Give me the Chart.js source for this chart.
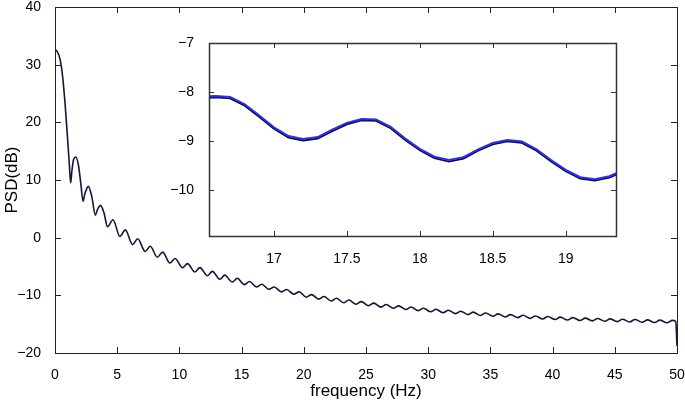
<!DOCTYPE html>
<html>
<head>
<meta charset="utf-8">
<script src="https://cdn.jsdelivr.net/npm/chart.js@4.4.1/dist/chart.umd.min.js"></script>
<style>
  html, body { margin: 0; padding: 0; background: #fff; }
  #wrap { position: relative; width: 685px; height: 405px; }
  #main { position: absolute; left: 0; top: 0; }
  #inset { position: absolute; left: 160px; top: 35px; }
</style>
</head>
<body>
<div id="wrap">
  <canvas id="main" width="685" height="405"></canvas>
  <canvas id="inset" width="470" height="230"></canvas>
</div>
<script>
// main curve: frequency (Hz) and PSD (dB)
const freq = [
  0, 0.15, 0.4, 0.6, 0.8, 1.0, 1.15, 1.26, 1.36, 1.5, 1.68, 1.88, 2.08, 2.25, 2.4, 2.68, 2.95, 3.25, 3.4, 3.66,
  3.95, 4.22, 4.66, 5.22, 5.65, 6.24, 6.65, 7.25, 7.65, 8.23, 8.65, 9.24, 9.65, 10.25, 10.65, 11.25, 11.65, 12.25, 12.65, 13.25,
  13.65, 14.25, 14.65, 15.22, 15.63, 16.2, 16.62, 17.2, 17.62, 18.2, 18.62, 19.2, 19.62,
  20.2, 20.62, 21.2, 21.62, 22.2, 22.62, 23.2, 23.62, 24.2, 24.62, 25.2, 25.62, 26.2, 26.62, 27.2, 27.62, 28.2, 28.62, 29.2, 29.62,
  30.2, 30.62, 31.2, 31.62, 32.2, 32.62, 33.2, 33.62, 34.2, 34.62, 35.2, 35.62, 36.2, 36.62, 37.2, 37.62, 38.2, 38.62, 39.2, 39.62,
  40.2, 40.62, 41.2, 41.62, 42.2, 42.62, 43.2, 43.62, 44.2, 44.62, 45.2, 45.62, 46.2, 46.62, 47.2, 47.62, 48.2, 48.62, 49.2, 49.62,
  49.9, 50
];
const psd = [
  32.6, 32.4, 31.0, 28.2, 23.5, 17.5, 12.8, 9.5, 11.6, 13.6, 14.0, 12.6, 9.3, 6.3, 7.6, 8.9, 7.2, 3.9, 4.8, 5.6,
  4.2, 1.9, 3.1, 0.2, 1.35, -1.2, -0.2, -2.4, -1.5, -3.4, -2.5, -4.4, -3.6, -5.2, -4.5, -5.95, -5.2, -6.6, -5.85, -7.2,
  -6.5, -7.7, -7.05, -8.15, -7.6, -8.55, -8.08, -8.97, -8.55, -9.40, -8.98, -9.80, -9.40,
  -10.32, -9.87, -10.66, -10.2, -10.98, -10.5, -11.28, -10.81, -11.55, -11.09, -11.8, -11.35, -12.04, -11.59, -12.25, -11.82, -12.46, -12.03, -12.66, -12.24,
  -12.85, -12.42, -13.02, -12.59, -13.18, -12.76, -13.34, -12.92, -13.49, -13.06, -13.62, -13.22, -13.75, -13.34, -13.87, -13.46, -13.99, -13.58, -14.1, -13.68,
  -14.19, -13.78, -14.28, -13.87, -14.36, -13.95, -14.43, -14.02, -14.5, -14.08, -14.56, -14.14, -14.62, -14.2, -14.67, -14.25, -14.72, -14.3, -14.76, -14.34,
  -14.5, -18.8
];
const xTicks = [0, 5, 10, 15, 20, 25, 30, 35, 40, 45, 50];
const yTicks = [-20, -10, 0, 10, 20, 30, 40];

// zoomed inset (two estimates, blue and black)
const insetFreq = [16.5, 16.6, 16.7, 16.8, 16.9, 17.0, 17.1, 17.2, 17.3, 17.4, 17.5, 17.6, 17.7, 17.8, 17.9,
  18.0, 18.1, 18.2, 18.3, 18.4, 18.5, 18.6, 18.7, 18.8, 18.9, 19.0, 19.1, 19.2, 19.3, 19.4];
const insetBlue = [-8.10, -8.08, -8.10, -8.25, -8.48, -8.72, -8.90, -8.96, -8.92, -8.77, -8.63, -8.55, -8.56, -8.71, -8.95,
  -9.16, -9.32, -9.39, -9.33, -9.17, -9.04, -8.98, -9.01, -9.17, -9.39, -9.59, -9.74, -9.78, -9.72, -9.59];
const insetBlack = [-8.13, -8.11, -8.13, -8.28, -8.51, -8.75, -8.93, -8.99, -8.95, -8.80, -8.66, -8.58, -8.59, -8.74, -8.98,
  -9.19, -9.35, -9.42, -9.36, -9.20, -9.07, -9.01, -9.04, -9.20, -9.42, -9.62, -9.77, -9.81, -9.75, -9.62];
const insetXTicks = [17, 17.5, 18, 18.5, 19];
const insetYTicks = [-10, -9, -8, -7];

const FONT = "'Liberation Sans', Arial, Helvetica, sans-serif";
const minus = v => String(v).replace('-', '\u2212');

// matlab-like box with ticks pointing inward on all four sides
const framePlugin = {
  id: 'frame',
  afterDatasetsDraw(chart, args, opts) {
    const {ctx, chartArea: a, scales} = chart;
    ctx.save();
    ctx.strokeStyle = opts.color;
    ctx.lineWidth = opts.width;
    ctx.strokeRect(a.left + 0.5, a.top + 0.5, a.right - a.left, a.bottom - a.top);
    ctx.beginPath();
    scales.x.ticks.forEach(t => {
      const px = Math.round(scales.x.getPixelForValue(t.value)) + 0.5;
      ctx.moveTo(px, a.bottom); ctx.lineTo(px, a.bottom - opts.tick);
      ctx.moveTo(px, a.top); ctx.lineTo(px, a.top + opts.tick);
    });
    scales.y.ticks.forEach(t => {
      const py = Math.round(scales.y.getPixelForValue(t.value)) + 0.5;
      ctx.moveTo(a.left, py); ctx.lineTo(a.left + opts.tick, py);
      ctx.moveTo(a.right, py); ctx.lineTo(a.right - opts.tick, py);
    });
    ctx.lineWidth = 1;
    ctx.stroke();
    ctx.restore();
  }
};

new Chart(document.getElementById('main'), {
  type: 'line',
  data: {
    datasets: [{
      data: freq.map((f, i) => ({x: f, y: psd[i]})),
      borderColor: '#16163a',
      borderWidth: 1.6,
      pointRadius: 0,
      cubicInterpolationMode: 'monotone',
      fill: false
    }]
  },
  options: {
    responsive: false,
    animation: false,
    layout: {padding: {top: 7, right: 8, left: 0, bottom: 0}},
    plugins: {
      legend: {display: false},
      tooltip: {enabled: false},
      frame: {color: '#222', width: 1, tick: 6}
    },
    scales: {
      x: {
        type: 'linear', min: 0, max: 50,
        afterBuildTicks: s => { s.ticks = xTicks.map(v => ({value: v})); },
        afterFit: s => { s.height = 52; s.paddingLeft = 0; s.paddingRight = 0; },
        grid: {display: false},
        border: {display: false},
        ticks: {color: '#000', font: {family: FONT, size: 14}, padding: 6, maxRotation: 0, callback: v => minus(v)},
        title: {display: true, text: 'frequency (Hz)', color: '#000', font: {family: FONT, size: 17}, padding: {top: 0, bottom: 3}}
      },
      y: {
        type: 'linear', min: -20, max: 40,
        afterBuildTicks: s => { s.ticks = yTicks.map(v => ({value: v})); },
        afterFit: s => { s.width = 55; s.paddingTop = 0; s.paddingBottom = 0; },
        grid: {display: false},
        border: {display: false},
        ticks: {color: '#000', font: {family: FONT, size: 14}, padding: 6, callback: v => minus(v)},
        title: {display: true, text: 'PSD(dB)', color: '#000', font: {family: FONT, size: 17}, padding: {top: 2, bottom: 0}}
      }
    }
  },
  plugins: [framePlugin]
});

new Chart(document.getElementById('inset'), {
  type: 'line',
  data: {
    datasets: [
      {
        data: insetFreq.map((f, i) => ({x: f, y: insetBlue[i]})),
        borderColor: '#2b2bff',
        borderWidth: 2,
        pointRadius: 0,
        tension: 0,
        fill: false
      },
      {
        data: insetFreq.map((f, i) => ({x: f, y: insetBlack[i]})),
        borderColor: '#111',
        borderWidth: 1.8,
        pointRadius: 0,
        tension: 0,
        fill: false
      }
    ]
  },
  options: {
    responsive: false,
    animation: false,
    layout: {padding: {top: 8, right: 14, left: 0, bottom: 0}},
    plugins: {
      legend: {display: false},
      tooltip: {enabled: false},
      frame: {color: '#333', width: 1.5, tick: 5}
    },
    scales: {
      x: {
        type: 'linear', min: 16.555, max: 19.345,
        afterBuildTicks: s => { s.ticks = insetXTicks.map(v => ({value: v})); },
        afterFit: s => { s.height = 29; s.paddingLeft = 0; s.paddingRight = 0; },
        grid: {display: false},
        border: {display: false},
        ticks: {color: '#000', font: {family: FONT, size: 14}, padding: 7, maxRotation: 0, callback: v => minus(v)}
      },
      y: {
        type: 'linear', min: -10.94, max: -7,
        afterBuildTicks: s => { s.ticks = insetYTicks.map(v => ({value: v})); },
        afterFit: s => { s.width = 49; s.paddingTop = 0; s.paddingBottom = 0; },
        grid: {display: false},
        border: {display: false},
        ticks: {color: '#000', font: {family: FONT, size: 14}, padding: 7, callback: v => minus(v)}
      }
    }
  },
  plugins: [framePlugin]
});
</script>
</body>
</html>
